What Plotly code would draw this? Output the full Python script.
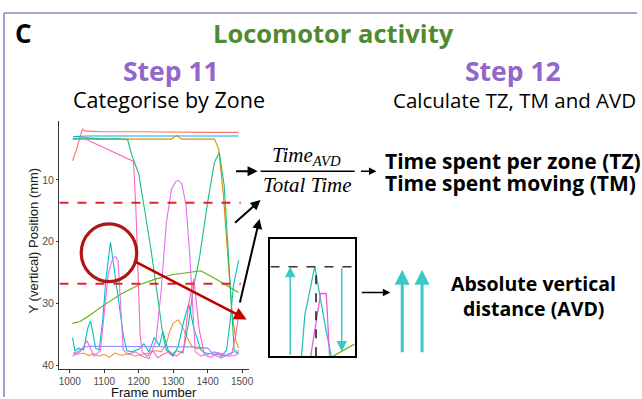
import plotly.graph_objects as go

W, H = 642, 399

# ---------------- data ----------------
x_ticks = [1000, 1100, 1200, 1300, 1400, 1500]
y_ticks = [10, 20, 30, 40]
zone_boundaries = [13.7, 26.8]

salmon_frames = [1008, 1020, 1030, 1037, 1045, 1100, 1200, 1300, 1400, 1490]
salmon_y = [6.9, 5.0, 3.0, 1.8, 2.1, 2.2, 2.2, 2.3, 2.3, 2.3]

sky_frames = [1010, 1050, 1100, 1200, 1300, 1400, 1490]
sky_y = [3.0, 2.9, 2.9, 2.9, 2.9, 2.9, 2.9]

gold_top_frames = [1008, 1100, 1200, 1295, 1310, 1325, 1420, 1432, 1445, 1458, 1470, 1482, 1490]
gold_top_y = [3.4, 3.4, 3.4, 3.4, 2.8, 3.4, 3.4, 5.0, 12.0, 22.0, 31.0, 36.0, 37.2]

gold_low_frames = [1010, 1025, 1040, 1055, 1070, 1085, 1100, 1115, 1130, 1150, 1170, 1190,
                   1210, 1230, 1250, 1265, 1280, 1290, 1300, 1314, 1325, 1340, 1355, 1370, 1390]
gold_low_y = [37.9, 38.2, 38.0, 38.4, 38.1, 38.5, 38.2, 38.7, 38.0, 38.4, 38.1, 38.5,
              38.2, 38.0, 37.6, 37.8, 36.5, 34.5, 33.2, 32.6, 33.5, 35.5, 37.0, 37.3, 37.2]

green_frames = [1008, 1030, 1060, 1100, 1150, 1200, 1250, 1300, 1340, 1380, 1420, 1460, 1490]
green_y = [33.2, 32.9, 31.8, 30.2, 28.4, 27.0, 26.0, 25.3, 25.0, 24.7, 25.9, 27.2, 28.2]

tealgreen_frames = [1010, 1050, 1100, 1140, 1168, 1180, 1200, 1215, 1235, 1255, 1270, 1280,
                    1295, 1310, 1328, 1345, 1360, 1376, 1400, 1420, 1434, 1448, 1458, 1467,
                    1477, 1490]
tealgreen_y = [3.3, 3.2, 3.4, 3.3, 3.5, 6.0, 9.0, 14.0, 21.0, 29.0, 35.0, 37.5,
               38.3, 37.6, 38.0, 33.0, 27.0, 22.7, 13.6, 7.1, 5.6, 10.9, 20.0, 29.6,
               37.6, 38.2]

teal_frames = [1008, 1015, 1025, 1040, 1052, 1060, 1068, 1075, 1085, 1095, 1105, 1118, 1128,
               1142, 1155, 1165, 1180, 1200, 1215, 1230, 1245, 1260, 1270, 1285, 1300, 1315,
               1330, 1345, 1360, 1380, 1400, 1420, 1440, 1455, 1465, 1475, 1490]
teal_y = [35.5, 37.7, 37.2, 37.5, 34.0, 32.8, 35.0, 37.2, 37.5, 33.0, 26.0, 20.1, 24.0,
          30.2, 35.0, 37.6, 37.8, 37.4, 36.5, 37.8, 35.5, 36.8, 34.5, 37.5, 38.5, 36.8,
          33.0, 30.0, 34.0, 37.5, 38.2, 37.8, 38.5, 37.5, 33.0, 27.0, 23.0]

pink_frames = [1035, 1060, 1100, 1140, 1170, 1185, 1192, 1198, 1204, 1210, 1225, 1240, 1255,
               1270, 1290, 1310, 1330, 1345, 1360, 1375, 1390, 1410, 1430, 1450, 1470, 1480, 1490]
pink_y = [3.0, 3.8, 4.8, 5.8, 6.5, 7.0, 15.0, 27.0, 35.0, 37.8, 38.5, 37.5, 38.8,
          38.2, 37.8, 38.5, 37.5, 30.0, 26.0, 34.0, 38.3, 38.7, 37.9, 38.5, 38.1, 35.5, 32.0]

periwinkle_frames = [1010, 1030, 1045, 1060, 1100, 1200, 1300, 1350, 1400, 1420, 1440, 1460, 1490]
periwinkle_y = [38.2, 37.5, 37.0, 36.9, 36.9, 36.9, 36.9, 37.0, 37.2, 38.3, 38.8, 38.1, 37.6]

violet_frames = [1008, 1030, 1050, 1070, 1089, 1100, 1112, 1125, 1133, 1140, 1148, 1155, 1170,
                 1190, 1210, 1230, 1250, 1265, 1280, 1295, 1308, 1316, 1325, 1337, 1348, 1356,
                 1364, 1380, 1400, 1420, 1440, 1460, 1480, 1490]
violet_y = [38.5, 37.8, 36.0, 38.5, 37.6, 32.0, 25.0, 22.6, 22.4, 23.0, 30.0, 37.5, 38.2,
            37.8, 38.5, 38.9, 36.0, 28.0, 17.0, 11.5, 10.2, 10.1, 10.6, 14.0, 22.0, 31.0,
            37.8, 38.5, 38.0, 38.3, 38.1, 38.5, 38.4, 37.8]

# inset (schematic close-up of the circled peak), in its own 0-100 units
inset_teal_x = [36.9, 40.8, 52.6, 58.4, 66.3, 72.2]
inset_teal_y = [0, 35, 76.3, 52, 21, 0]
inset_magenta_x = [47.8, 52.6, 59.6, 66.3, 70.2]
inset_magenta_y = [0, 21, 53.4, 53.4, 0]
inset_green_x = [74.1, 100]
inset_green_y = [0, 10.4]
inset_peak_level = 76.3
inset_peak_x = 54.1
inset_up_x = 23.5
inset_down_x = 84.7

# ---------------- styling ----------------
series = [
    (salmon_frames, salmon_y, '#F8766D'),
    (sky_frames, sky_y, '#00B0F6'),
    (gold_top_frames, gold_top_y, '#D39200'),
    (gold_low_frames, gold_low_y, '#E39A2A'),
    (green_frames, green_y, '#5BB300'),
    (tealgreen_frames, tealgreen_y, '#1DBB7F'),
    (teal_frames, teal_y, '#00BFC4'),
    (pink_frames, pink_y, '#FF62BC'),
    (periwinkle_frames, periwinkle_y, '#9D8CFF'),
    (violet_frames, violet_y, '#E76BF3'),
]

def X(px):
    return px / W

def Y(py):
    return 1 - py / H

fig = go.Figure()
for fr, yy, col in series:
    fig.add_trace(go.Scatter(x=fr, y=yy, mode='lines', line=dict(color=col, width=1.1),
                             xaxis='x', yaxis='y', showlegend=False, hoverinfo='skip'))

for zb in zone_boundaries:
    fig.add_trace(go.Scatter(x=[970, 1496], y=[zb, zb], mode='lines',
                             line=dict(color='#E8202A', width=2, dash='dash'),
                             xaxis='x', yaxis='y', showlegend=False, hoverinfo='skip'))

TEAL = '#3CC8C8'
# inset traces
fig.add_trace(go.Scatter(x=inset_teal_x, y=inset_teal_y, mode='lines',
                         line=dict(color='#2EC0B8', width=1.3), xaxis='x2', yaxis='y2',
                         showlegend=False, hoverinfo='skip'))
fig.add_trace(go.Scatter(x=inset_magenta_x, y=inset_magenta_y, mode='lines',
                         line=dict(color='#E060E0', width=1.3), xaxis='x2', yaxis='y2',
                         showlegend=False, hoverinfo='skip'))
fig.add_trace(go.Scatter(x=inset_green_x, y=inset_green_y, mode='lines',
                         line=dict(color='#5BB300', width=1.3), xaxis='x2', yaxis='y2',
                         showlegend=False, hoverinfo='skip'))
fig.add_trace(go.Scatter(x=[0, 100], y=[inset_peak_level] * 2, mode='lines',
                         line=dict(color='#333333', width=1.5, dash='dash'), xaxis='x2', yaxis='y2',
                         showlegend=False, hoverinfo='skip'))
fig.add_trace(go.Scatter(x=[inset_peak_x] * 2, y=[0, inset_peak_level], mode='lines',
                         line=dict(color='#111111', width=1.5, dash='dash'), xaxis='x2', yaxis='y2',
                         showlegend=False, hoverinfo='skip'))

annotations = []
def txt(s, x, y, size, color='#000000', family='Open Sans', xanchor='center'):
    annotations.append(dict(text=s, x=X(x), y=Y(y), xref='paper', yref='paper', showarrow=False,
                            xanchor=xanchor, yanchor='middle',
                            font=dict(size=size, color=color, family=family)))

def arrow(x0, y0, x1, y1, color='#000000', width=2, size=1.0, head=2):
    annotations.append(dict(text='', x=X(x1), y=Y(y1), xref='paper', yref='paper',
                            ax=x0 - x1, ay=y0 - y1, axref='pixel', ayref='pixel',
                            showarrow=True, arrowhead=head, arrowsize=size, arrowwidth=width,
                            arrowcolor=color, standoff=0, startstandoff=0))

GREEN = '#4F8A30'
PURPLE = '#9366C9'
txt('<b>C</b>', 23, 33, 26)
txt('<b>Locomotor activity</b>', 336, 33, 25.5, GREEN)
txt('<b>Step 11</b>', 172, 71, 26.5, PURPLE)
txt('Categorise by Zone', 170, 100, 21.5)
txt('<b>Step 12</b>', 517, 71, 26.5, PURPLE)
txt('Calculate TZ, TM and AVD', 518, 101, 20.5)
txt('<i>Time</i><sub><i>AVD</i></sub>', 308, 157, 21, family='Liberation Serif')
txt('<i>Total Time</i>', 309, 186, 21, family='Liberation Serif')
txt('<b>Time spent per zone (TZ)</b>', 386, 162, 21, xanchor='left')
txt('<b>Time spent moving (TM)</b>', 386, 184, 21, xanchor='left')
txt('<b>Absolute vertical</b>', 538, 285, 19.5)
txt('<b>distance (AVD)</b>', 538, 310, 19.5)
txt('Frame number', 154, 394.5, 13, '#111111', 'Liberation Sans')
annotations.append(dict(text='Y (vertical) Position (mm)', x=X(33), y=Y(242), xref='paper',
                        yref='paper', showarrow=False, textangle=-90, xanchor='center',
                        yanchor='middle', font=dict(size=13, color='#222222', family='Liberation Sans')))

arrow(236, 172, 259, 172)
arrow(235, 225, 262, 201)
arrow(241, 305, 261, 220)
arrow(362, 172, 379, 172, width=1.5)
arrow(363, 294, 393, 294, width=1.5)
arrow(136, 263, 248, 321, color='#C00000', width=2.5, size=1.0)
arrow(405, 355, 405, 271, color=TEAL, width=3, size=1.0)
arrow(425, 355, 425, 271, color=TEAL, width=3, size=1.0)

# inset arrows in inset coordinates
for xs, y0, y1 in [(inset_up_x, 0, inset_peak_level), (inset_down_x, inset_peak_level, 4)]:
    annotations.append(dict(text='', x=xs, y=y1, xref='x2', yref='y2', ax=xs, ay=y0,
                            axref='x2', ayref='y2', showarrow=True, arrowhead=2, arrowsize=1.4,
                            arrowwidth=1.5, arrowcolor=TEAL, standoff=0))

shapes = [
    dict(type='line', xref='paper', yref='paper', x0=X(3), x1=X(642), y0=Y(13), y1=Y(13),
         line=dict(color='#7F8FC2', width=1.6)),
    dict(type='line', xref='paper', yref='paper', x0=X(3), x1=X(3), y0=Y(13), y1=Y(399),
         line=dict(color='#7F8FC2', width=1.6)),
    dict(type='circle', xref='paper', yref='paper', x0=X(81), x1=X(137), y0=Y(283), y1=Y(225),
         line=dict(color='#B21515', width=3.2)),
    dict(type='line', xref='paper', yref='paper', x0=X(262), x1=X(357), y0=Y(172), y1=Y(172),
         line=dict(color='#000000', width=1.5)),
]

axis_common = dict(showgrid=False, zeroline=False, showline=True, linecolor='#333333',
                   linewidth=0.8, ticks='outside', ticklen=2.5, tickcolor='#333333', tickwidth=0.8)

fig.update_layout(
    width=W, height=H, margin=dict(l=0, r=0, t=0, b=0),
    paper_bgcolor='white', plot_bgcolor='white',
    xaxis=dict(domain=[X(59), X(250)], range=[970, 1519], tickvals=x_ticks, anchor='y',
               tickfont=dict(size=10, color='#4D4D4D', family='Liberation Sans'),
               **axis_common),
    yaxis=dict(domain=[Y(371), Y(122)], range=[40.6, 0.53], tickvals=y_ticks, anchor='x',
               tickfont=dict(size=10.5, color='#4D4D4D', family='Liberation Sans'),
               **axis_common),
    xaxis2=dict(domain=[X(272), X(357)], range=[0, 100], anchor='y2', showgrid=False,
                zeroline=False, showticklabels=False, ticks='', showline=True, mirror=True,
                linecolor='#000000', linewidth=1.5),
    yaxis2=dict(domain=[Y(358), Y(240)], range=[0, 100], anchor='x2', showgrid=False,
                zeroline=False, showticklabels=False, ticks='', showline=True, mirror=True,
                linecolor='#000000', linewidth=1.5),
    annotations=annotations, shapes=shapes, showlegend=False,
)

fig.write_html('out.html')
